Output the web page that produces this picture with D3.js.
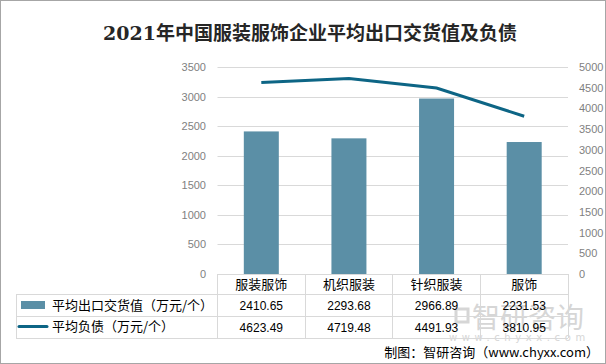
<!DOCTYPE html>
<html>
<head>
<meta charset="utf-8">
<script src="https://cdn.jsdelivr.net/npm/d3@7"></script>
<style>
body { margin: 0; background: #fff; }
svg { display: block; font-family: "Microsoft YaHei", "Noto Sans CJK SC", sans-serif; }
</style>
</head>
<body>
<div id="chart"></div>
<script>
var categories = ["服装服饰", "机织服装", "针织服装", "服饰"];
var exportValue = [2410.65, 2293.68, 2966.89, 2231.53];
var debtValue = [4623.49, 4719.48, 4491.93, 3810.95];
var leftTicks = [0, 500, 1000, 1500, 2000, 2500, 3000, 3500];
var rightTicks = [0, 500, 1000, 1500, 2000, 2500, 3000, 3500, 4000, 4500, 5000];
var seriesNames = ["平均出口交货值（万元/个）", "平均负债（万元/个）"];

var width = 606, height = 364;
var barColor = "#5b8fa6", lineColor = "#0d6585", gridColor = "#d9d9d9";
var numFont = "'Liberation Sans', Arial, sans-serif";

var svg = d3.select("#chart").append("svg").attr("width", width).attr("height", height);

// border
svg.append("rect").attr("x", 0.5).attr("y", 0.5).attr("width", width - 1).attr("height", height - 1)
	.attr("fill", "#fff").attr("stroke", "#a6a6a6");

svg.append("text").attr("x", 310).attr("y", 40).attr("text-anchor", "middle")
	.attr("font-family", "'DejaVu Serif', 'Noto Sans CJK SC', serif")
	.attr("font-size", 19).attr("font-weight", "bold").attr("fill", "#262626")
	.text("2021年中国服装服饰企业平均出口交货值及负债");

var x0 = 217.5, x1 = 568;
var x = d3.scaleBand().domain(categories).range([x0, x1]).paddingInner(0).paddingOuter(0);
var yL = d3.scaleLinear().domain([0, 3500]).range([274, 67]);
var yR = d3.scaleLinear().domain([0, 5000]).range([274, 67]);

// watermark (behind everything else)
var wm = svg.append("g").attr("fill", "#d6d6d6");
wm.append("rect").attr("x", 456).attr("y", 309).attr("width", 12).attr("height", 13).attr("fill", "none")
	.attr("stroke", "#d6d6d6").attr("stroke-width", 3);
wm.append("text").attr("x", 472).attr("y", 328).attr("font-size", 28).text("智研咨询");
wm.append("text").attr("x", 449).attr("y", 341).attr("font-size", 10).attr("letter-spacing", 4.6)
	.attr("font-family", "'DejaVu Sans', sans-serif").text("www.chyxx.com");

// gridlines
svg.append("g").selectAll("line").data(leftTicks.slice(1)).enter().append("line")
	.attr("x1", x0).attr("x2", x1)
	.attr("y1", function(d) { return Math.round(yL(d)) + 0.5; })
	.attr("y2", function(d) { return Math.round(yL(d)) + 0.5; })
	.attr("stroke", gridColor);

// left axis labels
svg.append("g").selectAll("text").data(leftTicks).enter().append("text")
	.attr("x", 206).attr("y", function(d) { return yL(d) + 4; })
	.attr("text-anchor", "end").attr("font-size", 11).attr("fill", "#7f7f7f")
	.attr("font-family", numFont)
	.text(function(d) { return d; });

// right axis labels
svg.append("g").selectAll("text").data(rightTicks).enter().append("text")
	.attr("x", 579).attr("y", function(d) { return yR(d) + 4; })
	.attr("text-anchor", "start").attr("font-size", 11).attr("fill", "#7f7f7f")
	.attr("font-family", numFont)
	.text(function(d) { return d; });

// bars
var bw = 35;
svg.append("g").selectAll("rect").data(exportValue).enter().append("rect")
	.attr("x", function(d, i) { return x(categories[i]) + x.bandwidth() / 2 - bw / 2; })
	.attr("y", function(d) { return yL(d); })
	.attr("width", bw)
	.attr("height", function(d) { return yL(0) - yL(d); })
	.attr("fill", barColor);

// line
var line = d3.line()
	.x(function(d, i) { return x(categories[i]) + x.bandwidth() / 2; })
	.y(function(d) { return yR(d); });
svg.append("path").datum(debtValue).attr("d", line)
	.attr("fill", "none").attr("stroke", lineColor).attr("stroke-width", 3);

// data table
var tLeft = 16, rowTop = [274, 294, 316, 338];
var tg = svg.append("g").attr("stroke", gridColor).attr("shape-rendering", "crispEdges");
tg.append("line").attr("x1", x0).attr("x2", x1).attr("y1", rowTop[0]).attr("y2", rowTop[0]);
tg.append("line").attr("x1", tLeft).attr("x2", x1).attr("y1", rowTop[1]).attr("y2", rowTop[1]);
tg.append("line").attr("x1", tLeft).attr("x2", x1).attr("y1", rowTop[2]).attr("y2", rowTop[2]);
tg.append("line").attr("x1", tLeft).attr("x2", x1).attr("y1", rowTop[3]).attr("y2", rowTop[3]);
tg.append("line").attr("x1", tLeft).attr("x2", tLeft).attr("y1", rowTop[1]).attr("y2", rowTop[3]);
var bounds = categories.map(function(c) { return x(c); }).concat([x1]);
tg.selectAll("line.v").data(bounds).enter().append("line").attr("class", "v")
	.attr("x1", function(d) { return d; }).attr("x2", function(d) { return d; })
	.attr("y1", rowTop[0]).attr("y2", rowTop[3]);

svg.append("g").selectAll("text").data(categories).enter().append("text")
	.attr("x", function(d) { return x(d) + x.bandwidth() / 2; }).attr("y", 289)
	.attr("text-anchor", "middle").attr("font-size", 13).attr("fill", "#000")
	.text(function(d) { return d; });

var fmt = d3.format(".2f");
[exportValue, debtValue].forEach(function(vals, r) {
	svg.append("g").selectAll("text").data(vals).enter().append("text")
		.attr("x", function(d, i) { return x(categories[i]) + x.bandwidth() / 2; })
		.attr("y", r === 0 ? 310 : 332)
		.attr("text-anchor", "middle").attr("font-size", 12).attr("fill", "#000")
		.attr("font-family", numFont)
		.text(function(d) { return fmt(d); });
});

// legend keys in table
svg.append("rect").attr("x", 21).attr("y", 301).attr("width", 24).attr("height", 8).attr("fill", barColor);
svg.append("line").attr("x1", 19).attr("x2", 47).attr("y1", 326.5).attr("y2", 326.5)
	.attr("stroke", lineColor).attr("stroke-width", 3).attr("stroke-linecap", "round");
svg.append("g").selectAll("text").data(seriesNames).enter().append("text")
	.attr("x", 52).attr("y", function(d, i) { return i === 0 ? 310 : 331; })
	.attr("font-size", 13).attr("fill", "#000")
	.text(function(d) { return d; });

// source
svg.append("text").attr("x", 599).attr("y", 357).attr("text-anchor", "end")
	.attr("font-size", 13).attr("fill", "#000")
	.text("制图：智研咨询（www.chyxx.com）");
</script>
</body>
</html>
